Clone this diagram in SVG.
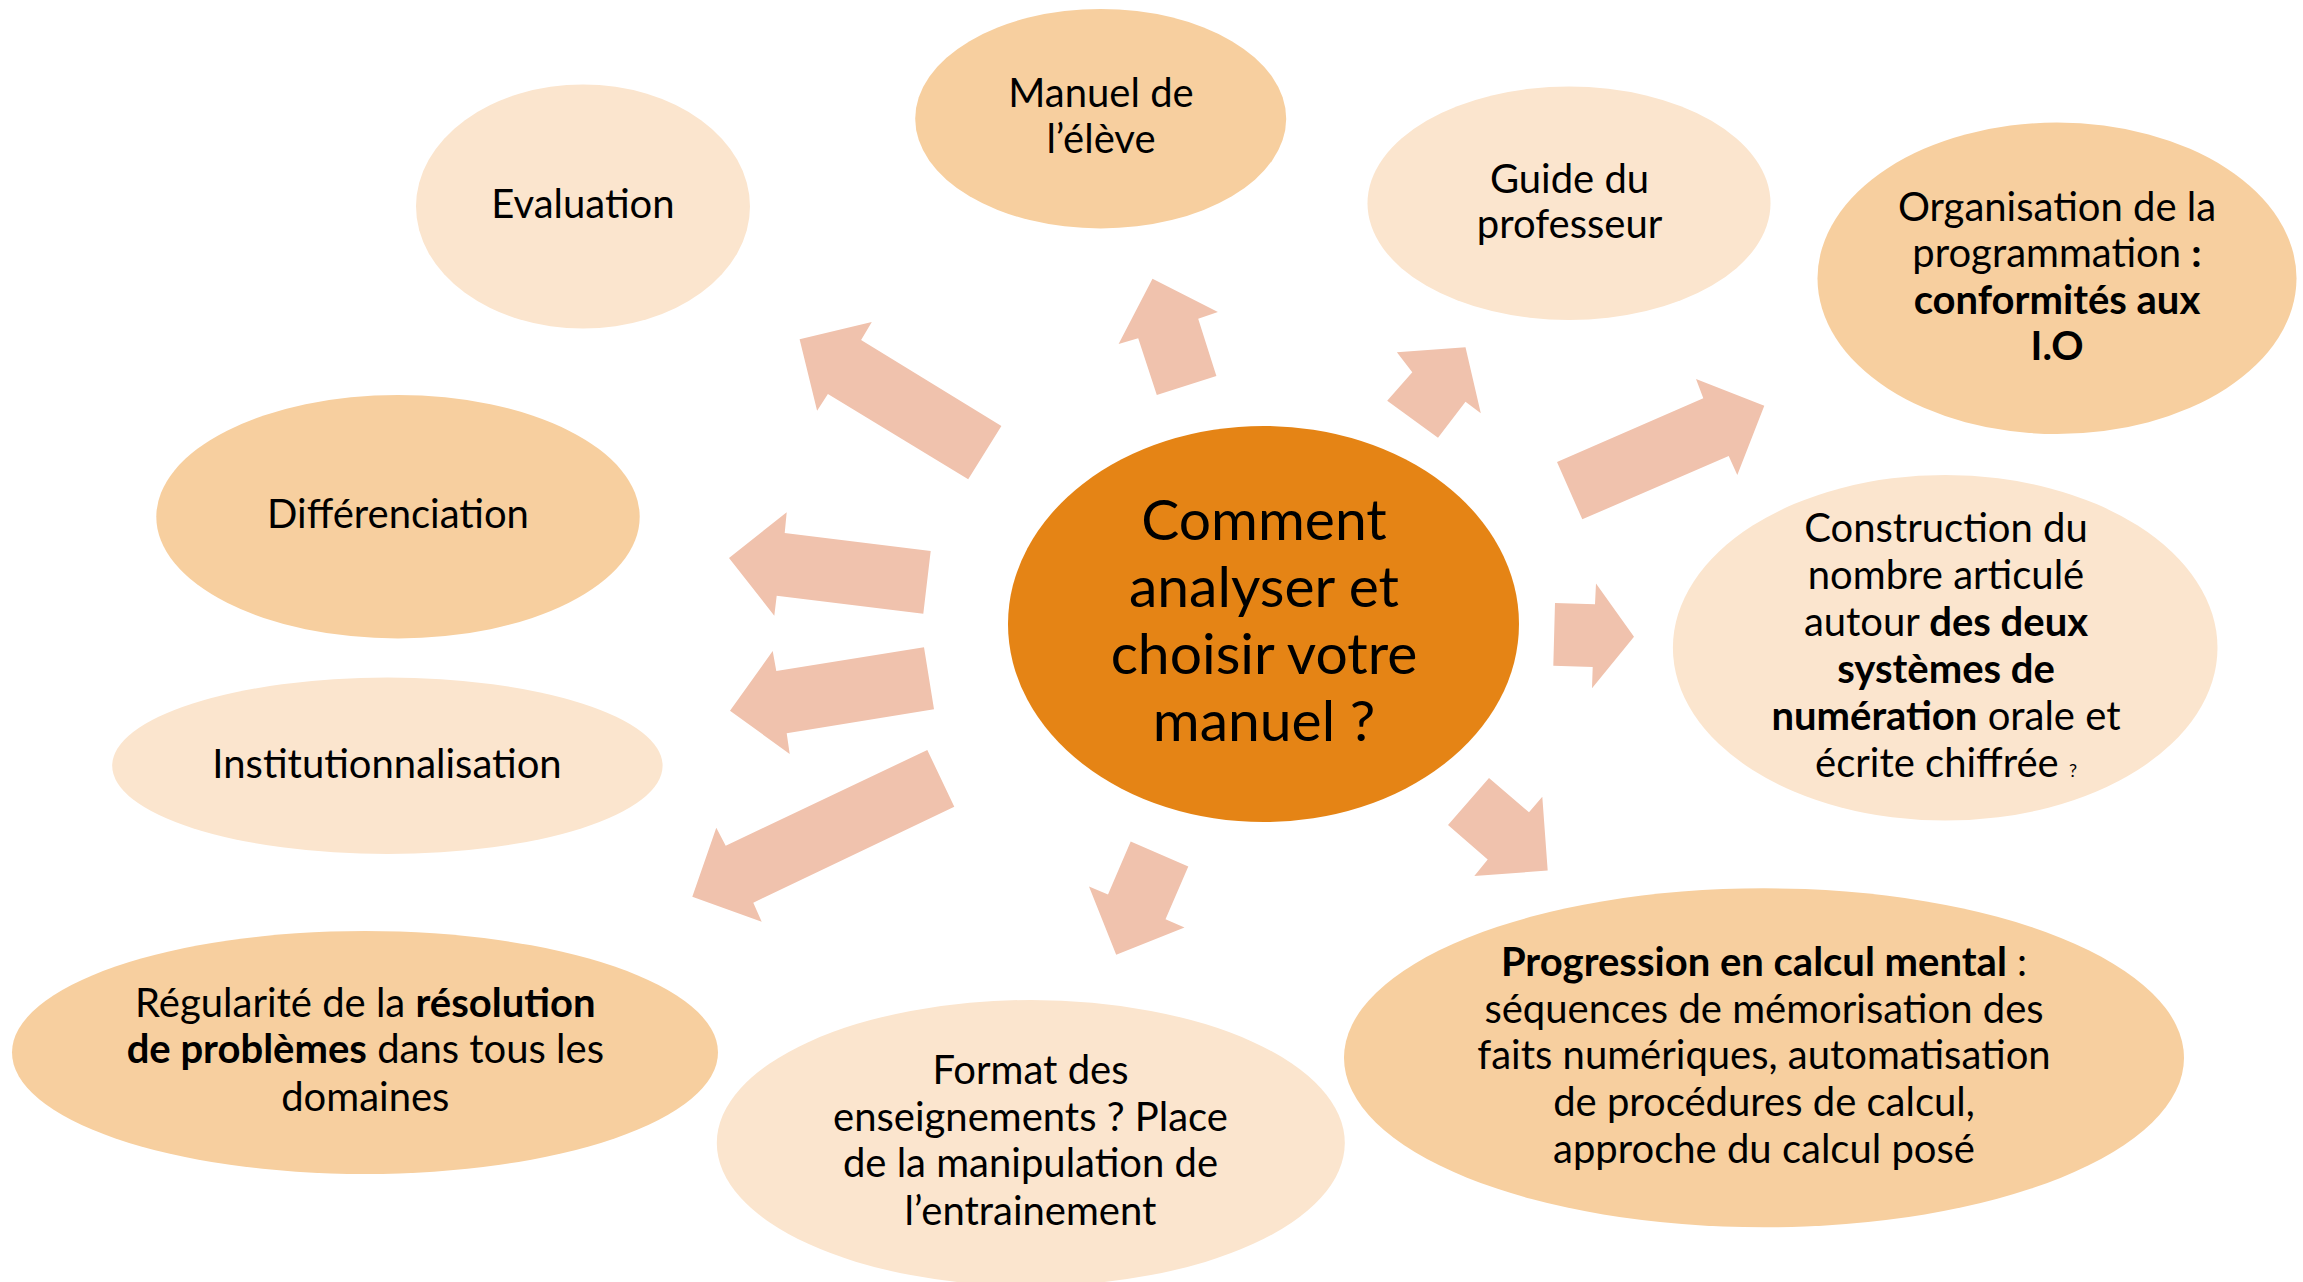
<svg xmlns="http://www.w3.org/2000/svg" width="2303" height="1282" viewBox="0 0 2303 1282">
  <style>
    .dark { fill: #F7CF9F; }
    .light { fill: #FBE5CE; }
    .hub { fill: #E58415; }
    .arrow { fill: #F0C2AD; }
    text { font-family: Lato, "Open Sans", "Liberation Sans", sans-serif; font-size: 40px; fill: #000; text-anchor: middle; }
    .big { font-size: 57px; }
    .b { font-weight: bold; }
    .tiny { font-size: 18px; }
  </style>
  <rect width="2303" height="1282" fill="#FFFFFF"/>

  <!-- block arrows radiating from the central question -->
  <g id="connectors">
    <polygon class="arrow" points="799.6,339.3 871.8,322 861.1,340 1001.4,426 968.2,479.3 827.9,394 817.1,410.7"/>
    <polygon class="arrow" points="1152.5,278.7 1217.9,312 1198.2,318.7 1216.4,376 1156.8,395 1138.2,338.3 1118.6,344"/>
    <polygon class="arrow" points="1465.5,347.3 1480.8,413.3 1465.5,401.7 1438,437.7 1387.2,400.7 1412.3,372.3 1396.9,352.3"/>
    <polygon class="arrow" points="1764.3,405.7 1737.3,475 1728.7,456.1 1582.3,519.3 1557,462.1 1703.3,398.2 1696,378.9"/>
    <polygon class="arrow" points="1634,636.8 1592,688.2 1592.7,667.1 1553.3,665.7 1555,602.9 1595,604.3 1596,583.6"/>
    <polygon class="arrow" points="1547.7,870.5 1474.3,876 1487.7,859.5 1448,825 1489,778 1529,812.2 1542.3,796.8"/>
    <polygon class="arrow" points="1116.2,954.7 1089,886.4 1108,894.5 1130.7,841.6 1188.3,866.4 1165.5,919.3 1184.5,927.4"/>
    <polygon class="arrow" points="692.3,896.7 716.3,827.7 725.7,845.7 927.3,750 954.3,806.7 753.3,902.7 761.7,921.7"/>
    <polygon class="arrow" points="730,710.7 772.7,651 776.3,671 924,647.3 934,709.3 786.7,733.3 789.7,754"/>
    <polygon class="arrow" points="729,558 786.7,512.3 784.7,533 930.7,551 923.3,613.7 776.7,595.7 774.3,615.7"/>
  </g>

  <g id="hub">
    <ellipse class="hub" cx="1263.5" cy="624" rx="255.5" ry="198"/>
    <text class="big" x="1264" y="540">Comment</text>
    <text class="big" x="1264" y="607">analyser et</text>
    <text class="big" x="1264" y="674">choisir votre</text>
    <text class="big" x="1264" y="741">manuel ?</text>
  </g>

  <g id="evaluation">
    <ellipse class="light" cx="583" cy="206.5" rx="167" ry="122"/>
    <text x="583" y="218">Evaluation</text>
  </g>

  <g id="manuel-eleve">
    <ellipse class="dark" cx="1100.7" cy="118.7" rx="185.5" ry="109.7"/>
    <text x="1101" y="106.5">Manuel de</text>
    <text x="1101" y="153.3">l’élève</text>
  </g>

  <g id="guide-professeur">
    <ellipse class="light" cx="1569" cy="203.3" rx="201.5" ry="116.7"/>
    <text x="1569.5" y="192.7">Guide du</text>
    <text x="1569.5" y="238.3">professeur</text>
  </g>

  <g id="organisation">
    <ellipse class="dark" cx="2057" cy="278.3" rx="239.5" ry="155.7"/>
    <text x="2057" y="221">Organisation de la</text>
    <text x="2057" y="267">programmation <tspan class="b">:</tspan></text>
    <text x="2057" y="314" class="b">conformités aux</text>
    <text x="2057" y="360" class="b">I.O</text>
  </g>

  <g id="construction">
    <ellipse class="light" cx="1945.2" cy="647.8" rx="272.3" ry="172.8"/>
    <text x="1946" y="541.7">Construction du</text>
    <text x="1946" y="589">nombre articulé</text>
    <text x="1946" y="636">autour <tspan class="b">des deux</tspan></text>
    <text x="1946" y="682.7" class="b">systèmes de</text>
    <text x="1946" y="730"><tspan class="b">numération</tspan> orale et</text>
    <text x="1946" y="776.7">écrite chiffrée <tspan class="tiny">?</tspan></text>
  </g>

  <g id="progression">
    <ellipse class="dark" cx="1764" cy="1057.8" rx="420" ry="169.5"/>
    <text x="1764" y="976"><tspan class="b">Progression en calcul mental</tspan> :</text>
    <text x="1764" y="1022.7">séquences de mémorisation des</text>
    <text x="1764" y="1069.3">faits numériques, automatisation</text>
    <text x="1764" y="1116">de procédures de calcul,</text>
    <text x="1764" y="1162.7">approche du calcul posé</text>
  </g>

  <g id="format">
    <ellipse class="light" cx="1030.8" cy="1143" rx="314" ry="143"/>
    <text x="1030.5" y="1084">Format des</text>
    <text x="1030.5" y="1130.7">enseignements ? Place</text>
    <text x="1030.5" y="1177.3">de la manipulation de</text>
    <text x="1030.5" y="1225">l’entrainement</text>
  </g>

  <g id="regularite">
    <ellipse class="dark" cx="365" cy="1052.5" rx="353" ry="121.5"/>
    <text x="365.3" y="1016.7">Régularité de la <tspan class="b">résolution</tspan></text>
    <text x="365.3" y="1063.3"><tspan class="b">de problèmes</tspan> dans tous les</text>
    <text x="365.3" y="1110.7">domaines</text>
  </g>

  <g id="institutionnalisation">
    <ellipse class="light" cx="387.4" cy="765.8" rx="275.2" ry="88.2"/>
    <text x="387" y="778.3">Institutionnalisation</text>
  </g>

  <g id="differenciation">
    <ellipse class="dark" cx="398" cy="516.7" rx="241.7" ry="121.7"/>
    <text x="398" y="528.3">Différenciation</text>
  </g>
</svg>
